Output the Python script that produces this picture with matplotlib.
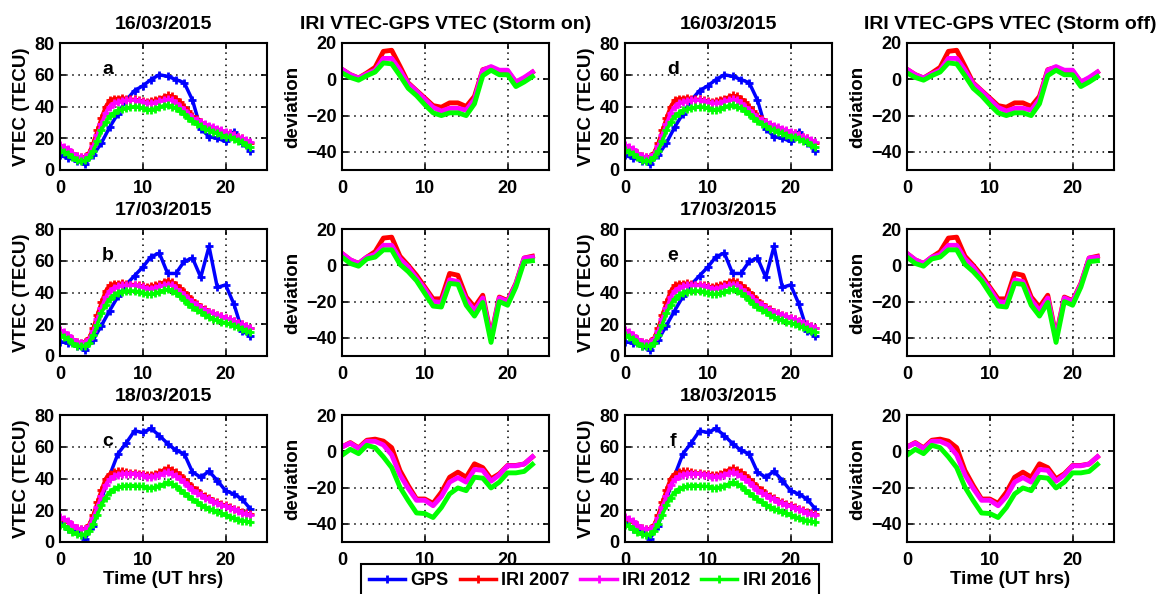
import numpy as np
import matplotlib
matplotlib.use('Agg')
import matplotlib.pyplot as plt

# time axes
hours_gps = np.arange(0, 24)          # GPS is hourly
hours_iri = np.arange(0, 23.5, 0.5)   # IRI is half-hourly
hours_dev = np.arange(0, 24)

days = ['16/03/2015', '17/03/2015', '18/03/2015']
letters_left = ['a', 'b', 'c']
letters_right = ['d', 'e', 'f']

# VTEC (TECU), day 1
gps_16 = [9.2, 7.6, 5.9, 3.8, 9.2, 17, 27, 35.5, 44, 50, 53, 57, 60, 59, 57, 55,
          44, 26, 21, 20, 18, 24, 17, 12]
iri07_16 = [15, 14, 12.5, 10.5, 9, 8, 8.5, 11, 17, 25, 33, 40, 44, 45, 45, 45.5,
            45, 44.5, 44.5, 44, 43.5, 43, 43.5, 44, 45, 46, 47, 46.5, 45, 43, 40, 37,
            34, 32, 30, 28.5, 27, 26, 25, 24.5, 23.5, 23, 22, 21, 20, 18.5, 17]
iri12_16 = [16, 14.5, 13, 11, 9, 8, 8, 10, 15, 22, 29, 36, 40, 42, 43, 43.5,
            44, 44, 44, 43.5, 43, 42, 42, 42.5, 43.5, 44, 44.5, 44, 42, 40, 38, 35.5,
            33, 31.5, 30, 29, 28, 27, 26, 25, 24, 23, 22, 21, 20, 19, 17.5]
iri16_16 = [12.5, 11.5, 10, 8, 6, 5.5, 6, 8, 12, 18, 25, 30, 34, 36, 37.5, 38.5,
            39, 39.5, 40, 39.5, 39, 38, 38, 38.5, 39.5, 40.5, 41, 40, 39, 37, 35, 33,
            31, 29, 27.5, 26, 25, 24, 23, 22, 21, 20.5, 19.5, 18.5, 17.5, 16, 14.5]

# VTEC (TECU), day 2
gps_17 = [9, 8.2, 6.5, 3.5, 10, 19.2, 28.6, 37.5, 45, 50.6, 56, 62.6, 64.8, 52, 52, 59.6,
          61.7, 49.6, 69, 43.2, 44.8, 32.8, 16, 12.3]
iri07_17 = [15.5, 14, 12.5, 10.5, 9, 8.5, 9, 11.5, 17.5, 26, 34, 41, 44.5, 45.5, 45.5, 46,
            45.5, 45, 45, 44.5, 44, 43.5, 44, 44.5, 45.5, 46.5, 47.5, 46.5, 45, 43, 40.5, 37.5,
            35, 33, 31, 29.5, 28, 27, 26, 25, 24, 23, 22, 21, 20, 19, 17.5]
iri12_17 = [16.5, 15, 13, 11, 9, 8.5, 8.5, 10.5, 15.5, 23, 30, 37, 41, 43, 44, 44.5,
            44.5, 44.5, 44.5, 44, 43.5, 42.5, 42.5, 43, 44, 44.5, 45, 44.5, 42.5, 40.5, 38.5, 36,
            34, 32, 30.5, 29, 28, 27, 26, 25, 24, 23, 22, 21, 20, 19, 17.5]
iri16_17 = [13.5, 12, 10.5, 8.5, 6.5, 6, 6.5, 8.5, 13, 19.5, 27, 32, 36, 38.5, 40, 40.5,
            41, 41, 41, 40.5, 40, 39, 39, 39.5, 40.5, 41.5, 42, 41, 39.5, 37.5, 35.5, 33,
            31, 29, 27.5, 26, 24.5, 23.5, 22.5, 21.5, 21, 20, 19, 18, 17, 16, 15]

# VTEC (TECU), day 3
gps_18 = [12.5, 8.5, 6.5, 2, 10, 27, 42, 55.6, 62.4, 70, 69, 71.5, 67, 62, 57.7, 55.6,
          44, 40.8, 44.6, 38.7, 32.3, 30.2, 27, 20.7]
iri07_18 = [15, 14, 12.5, 10.5, 9, 8, 8.5, 11, 17, 25, 33, 40, 43, 44, 44.5, 44.5,
            44, 43.5, 43.5, 43, 43, 42, 42, 43, 44, 45.5, 46.5, 45.5, 44, 42, 40, 37,
            34.5, 32.5, 30.5, 29, 27.5, 26, 25, 24, 23, 22, 21, 20, 19, 18, 17.5]
iri12_18 = [15.5, 14.5, 13, 11, 9, 8, 8, 10, 15, 22, 29, 36, 39.5, 41.5, 42.5, 43,
            43, 43, 43, 42.5, 42, 41, 41, 41.5, 42.5, 43.5, 44, 43, 41.5, 39.5, 37.5, 35,
            33, 31, 29.5, 28, 27, 25.5, 24.5, 23.5, 22.5, 21.5, 20.5, 19.5, 18.5, 17.5, 17]
iri16_18 = [11, 10, 8.5, 6.5, 5, 4.5, 5, 7, 11.5, 17, 23, 28, 31.5, 33.5, 34.5, 35,
            35.5, 35.5, 35.5, 35, 35, 34, 34, 34.5, 35.5, 36.5, 37.5, 36.5, 35, 33, 31, 29,
            27, 25, 23.5, 22, 21, 20, 19, 18, 17, 16, 15, 14, 13.5, 13, 12.3]

# deviation IRI - GPS (TECU)
dev07_16 = [5.5, 2.6, 0.7, 3.5, 6.6, 15.4, 16, 7.2, -2, -6.2, -10.3, -14.5, -15.4, -13, -13, -15,
            -9.4, 5.3, 6.6, 4.4, 4.4, -1.5, 0.4, 3.9]
dev12_16 = [5.5, 2.5, 0.7, 3, 5, 11.5, 11.5, 5, -2.5, -6.5, -11, -15.5, -17.5, -16, -16, -17,
            -11, 5, 7, 5, 5, -1.5, 1, 4]
dev16_16 = [3.5, 1, -0.5, 2, 4, 9, 8.5, 2, -5, -9, -14, -18.5, -20, -18.5, -18.5, -20,
            -13.5, 2, 5, 2.5, 2.5, -4, -1.5, 1.5]

dev07_17 = [6.5, 3, 1, 4.5, 7.5, 15, 15.5, 5, 0, -5.5, -12, -18.5, -18.5, -4.5, -5.5, -17.5,
            -23, -16.5, -39, -17.5, -19.5, -10, 4, 5]
dev12_17 = [6.5, 3, 1, 4.5, 6, 11, 11, 3.5, -1, -7, -13, -20, -20.5, -8, -9, -19,
            -25, -18, -40, -18, -20, -10.5, 4, 4.5]
dev16_17 = [4.5, 1, -0.5, 3.5, 4.5, 8.5, 8.5, 0.5, -3.5, -8.5, -15.5, -22.5, -23, -10, -10.5, -22,
            -28, -20.5, -42.5, -20, -22, -12, 2, 2.5]

dev07_18 = [2.4, 4.8, 1.9, 6.1, 6.7, 5.6, 2, -10.6, -18.9, -26.3, -26.3, -28.7, -22.6, -14.3, -11.5, -14.3,
            -6.9, -9, -15.2, -12.4, -7.8, -7.8, -7, -3.1]
dev12_18 = [2.4, 4.5, 1.5, 5.5, 5.5, 3.5, -2, -13, -20.5, -27, -27, -30, -25, -17, -14.5, -17,
            -10, -10.5, -16.5, -13, -8, -8, -7, -3]
dev16_18 = [-2.2, 1.1, -1.3, 3.3, 2, -3.1, -9, -19.8, -27.2, -34, -34.3, -36.5, -31, -23.5, -20.2, -21.7,
            -14.3, -14.8, -20.2, -17, -11.9, -11.9, -11.1, -7.2]

gps_all = [gps_16, gps_17, gps_18]
iri07_all = [iri07_16, iri07_17, iri07_18]
iri12_all = [iri12_16, iri12_17, iri12_18]
iri16_all = [iri16_16, iri16_17, iri16_18]
dev07_all = [dev07_16, dev07_17, dev07_18]
dev12_all = [dev12_16, dev12_17, dev12_18]
dev16_all = [dev16_16, dev16_17, dev16_18]

plt.rcParams['font.family'] = ['Liberation Sans', 'DejaVu Sans']
plt.rcParams['font.weight'] = 'bold'
plt.rcParams['axes.labelweight'] = 'bold'
plt.rcParams['axes.titleweight'] = 'bold'

BLUE, RED, MAG, GREEN = '#0000ff', '#ff0000', '#ff00ff', '#00ff00'

fig = plt.figure(figsize=(11.59, 5.94), dpi=100)

col_left = [60, 342, 625, 907]   # pixels
row_top = [43, 229, 415]
ax_w, ax_h = 207, 127
W, H = 1159, 594


def style_axes(ax):
    """MATLAB-like look: box, inward ticks, dotted grid"""
    ax.tick_params(direction='in', top=True, right=True, length=4, width=1.2,
                   labelsize=13, pad=4)
    ax.tick_params(axis='x', pad=7)
    for s in ax.spines.values():
        s.set_linewidth(1.5)
    ax.grid(True, linestyle=(0, (1, 3)), color='k', linewidth=1.1)
    ax.set_axisbelow(True)
    for lab in ax.get_xticklabels() + ax.get_yticklabels():
        lab.set_fontweight('bold')


handles = None
for r in range(3):
    for c in range(4):
        left = col_left[c] / W
        bottom = (H - row_top[r] - ax_h) / H
        ax = fig.add_axes([left, bottom, ax_w / W, ax_h / H])
        if c in (0, 2):
            # VTEC panels
            h1, = ax.plot(hours_gps, gps_all[r], '-+', color=BLUE, lw=2.5, ms=6, mew=2, label='GPS')
            h2, = ax.plot(hours_iri, iri07_all[r], '-+', color=RED, lw=2.5, ms=6, mew=2, label='IRI 2007')
            h3, = ax.plot(hours_iri, iri12_all[r], '-+', color=MAG, lw=2.5, ms=6, mew=2, label='IRI 2012')
            h4, = ax.plot(hours_iri, iri16_all[r], '-+', color=GREEN, lw=2.5, ms=6, mew=2, label='IRI 2016')
            handles = [h1, h2, h3, h4]
            ax.set_ylim(0, 80)
            ax.set_yticks([0, 20, 40, 60, 80])
            ax.set_ylabel('VTEC (TECU)', fontsize=13.5, labelpad=3)
            ax.set_title(days[r], fontsize=14, pad=10)
            letter = letters_left[r] if c == 0 else letters_right[r]
            ax.text(5.8, 63, letter, fontsize=14, fontweight='bold', ha='center', va='center')
        else:
            # deviation panels
            ax.plot(hours_dev, dev07_all[r], '-', color=RED, lw=3.5)
            ax.plot(hours_dev, dev12_all[r], '-', color=MAG, lw=3.5)
            ax.plot(hours_dev, dev16_all[r], '-', color=GREEN, lw=3.5)
            ax.set_ylim(-50, 20)
            ax.set_yticks([-40, -20, 0, 20])
            ax.set_ylabel('deviation', fontsize=13.5, labelpad=3)
            if r == 0:
                txt = 'IRI VTEC-GPS VTEC (Storm on)' if c == 1 else 'IRI VTEC-GPS VTEC (Storm off)'
                ax.set_title(txt, fontsize=14, pad=10)
        ax.set_xlim(0, 25)
        ax.set_xticks([0, 10, 20])
        # middle two bottom panels have their x label hidden under the legend
        if r == 2 and c in (0, 3):
            ax.set_xlabel('Time (UT hrs)', fontsize=13.5, labelpad=2)
        style_axes(ax)

leg = fig.legend(handles=handles, loc='upper center', ncol=4,
                 bbox_to_anchor=(590 / W, 30 / H), fontsize=13, frameon=True,
                 fancybox=False, edgecolor='k', framealpha=1, handlelength=2.0,
                 columnspacing=0.6, handletextpad=0.3, borderpad=0.45, borderaxespad=0)
leg.get_frame().set_linewidth(1.5)
for t in leg.get_texts():
    t.set_fontweight('bold')

fig.savefig('out.png', dpi=100)
